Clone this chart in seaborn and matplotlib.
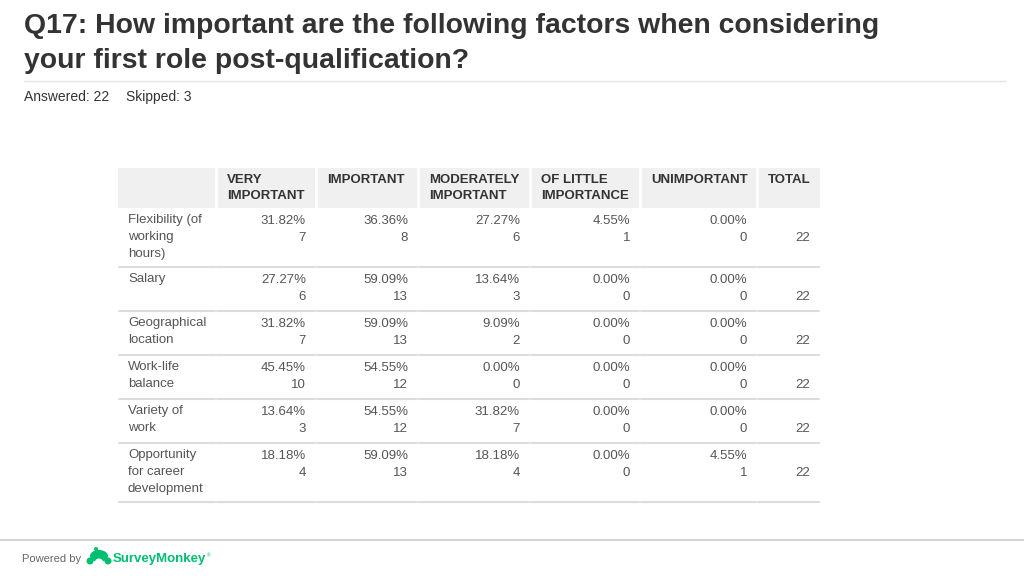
import matplotlib.pyplot as plt
import matplotlib.patches as mpatches
import seaborn as sns

# dati della tabella
title_lines = ['Q17: How important are the following factors when considering',
               'your first role post-qualification?']
answered = 22
skipped = 3
columns = ['VERY\nIMPORTANT', 'IMPORTANT', 'MODERATELY\nIMPORTANT', 'OF LITTLE\nIMPORTANCE', 'UNIMPORTANT', 'TOTAL']
factors = ['Flexibility (of\nworking\nhours)', 'Salary', 'Geographical\nlocation',
           'Work-life\nbalance', 'Variety of\nwork', 'Opportunity\nfor career\ndevelopment']
very_important = [31.82, 27.27, 31.82, 45.45, 13.64, 18.18]
very_important_n = [7, 6, 7, 10, 3, 4]
important = [36.36, 59.09, 59.09, 54.55, 54.55, 59.09]
important_n = [8, 13, 13, 12, 12, 13]
moderately = [27.27, 13.64, 9.09, 0.00, 31.82, 18.18]
moderately_n = [6, 3, 2, 0, 7, 4]
little = [4.55, 0.00, 0.00, 0.00, 0.00, 0.00]
little_n = [1, 0, 0, 0, 0, 0]
unimportant = [0.00, 0.00, 0.00, 0.00, 0.00, 4.55]
unimportant_n = [0, 0, 0, 0, 0, 1]
totals = [22, 22, 22, 22, 22, 22]

sns.set_theme(style='white')
plt.rcParams['font.family'] = ['Liberation Sans', 'DejaVu Sans']

fig = plt.figure(figsize=(10.24, 5.76), dpi=100)
ax = fig.add_axes([0, 0, 1, 1])
ax.set_xlim(0, 1024)
ax.set_ylim(576, 0)
ax.set_axis_off()

dark = '#333333'
grey = '#555555'
line = '#dcdcdc'

# titolo e intestazione
for i, t in enumerate(title_lines):
    ax.text(24, 26 + 35 * i, t, fontsize=20.4, fontweight='bold', color=dark, va='center')
ax.plot([24, 1005], [81, 81], color='#e3e3e3', lw=1)
ax.text(24, 97, 'Answered: %d' % answered, fontsize=10, color=dark, va='center')
ax.text(126, 97, 'Skipped: %d' % skipped, fontsize=10, color=dark, va='center')

# colonne della tabella
edges = [118, 216, 316, 418, 530, 640, 757, 820]
ax.add_patch(mpatches.Rectangle((edges[0], 168), edges[-1] - edges[0], 40, color='#f0f0f0', lw=0))
for e in edges[1:-1]:
    ax.plot([e, e], [168, 208], color='white', lw=2)
for i, c in enumerate(columns):
    ax.text(edges[i + 1] + 11, 174, c, fontsize=9.5, fontweight='bold', color=dark,
            va='top', linespacing=1.4)

# righe
row_edges = [208, 267, 311, 355, 399, 443, 502]
series = [(very_important, very_important_n), (important, important_n), (moderately, moderately_n),
          (little, little_n), (unimportant, unimportant_n)]
for r, f in enumerate(factors):
    top = row_edges[r]
    ax.text(128, top + 6, f, fontsize=9.5, color=grey, va='top', linespacing=1.55)
    for j, (p, n) in enumerate(series):
        xr = edges[j + 2] - 10
        ax.text(xr, top + 13, '%.2f%%' % p[r], fontsize=9.5, color=grey, ha='right', va='center')
        ax.text(xr, top + 30, str(n[r]), fontsize=9.5, color=grey, ha='right', va='center')
    ax.text(edges[-1] - 10, top + 30, str(totals[r]), fontsize=9.5, color=grey, ha='right', va='center')
    for k in range(len(edges) - 1):
        ax.plot([edges[k] + 1, edges[k + 1] - 1], [row_edges[r + 1]] * 2, color=line, lw=1.5)

# piè di pagina
ax.plot([0, 1024], [540, 540], color='#d5d5d5', lw=1.5)
ax.text(22, 559, 'Powered by', fontsize=8, color='#666666', va='center')
green = '#00bf6f'
ax.add_patch(mpatches.Ellipse((99, 556), 18, 12, color=green, lw=0))
ax.add_patch(mpatches.Ellipse((99, 562), 8, 7, color='white', lw=0))
ax.add_patch(mpatches.Circle((90, 561), 3.5, color=green, lw=0))
ax.add_patch(mpatches.Circle((108, 561), 3.5, color=green, lw=0))
ax.add_patch(mpatches.Circle((96, 549), 2, color=green, lw=0))
ax.text(113, 559, 'SurveyMonkey', fontsize=9.5, fontweight='bold', color=green, va='center')
ax.text(207, 556, '\u00ae', fontsize=3.5, color=green, va='center')

fig.savefig('out.png', dpi=100)
